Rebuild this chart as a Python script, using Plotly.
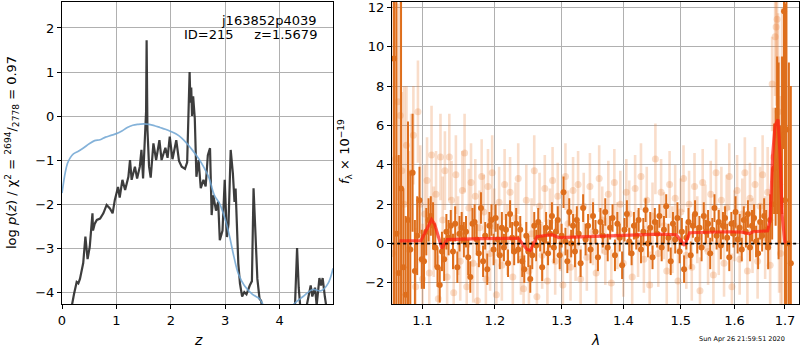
import plotly.graph_objects as go

# ---------------- Left panel: p(z) ----------------
z_pz = [0.0, 0.10, 0.18, 0.22, 0.27, 0.30, 0.33, 0.36, 0.39, 0.43, 0.47, 0.51, 0.56, 0.57, 0.60, 0.64, 0.70,
        0.76, 0.82, 0.88, 0.93, 0.97, 1.03, 1.06, 1.11, 1.16, 1.22, 1.25, 1.28, 1.34, 1.38, 1.43,
        1.46, 1.49, 1.52, 1.545, 1.555, 1.57, 1.60, 1.63, 1.68, 1.73, 1.79, 1.83, 1.90, 1.94, 1.98,
        2.03, 2.10, 2.15, 2.20, 2.26, 2.30, 2.33, 2.345, 2.36, 2.375, 2.39, 2.41, 2.44, 2.47, 2.51,
        2.55, 2.60, 2.64, 2.68, 2.72, 2.75, 2.78, 2.83, 2.87, 2.90, 2.95, 2.99, 3.03, 3.06, 3.10,
        3.14, 3.17, 3.19, 3.24, 3.27, 3.31, 3.35, 3.39, 3.45, 3.49, 3.52, 3.55, 3.59, 3.63, 3.66,
        3.70, 3.80, 4.00, 4.20, 4.28, 4.32, 4.35, 4.38, 4.45, 4.52, 4.57, 4.60, 4.65, 4.68, 4.73,
        4.76, 4.79, 4.83, 4.86, 4.92, 4.97]
logp = [-5.5, -4.8, -4.25, -4.05, -3.77, -3.80, -3.70, -3.54, -3.34, -2.74, -3.25, -2.97, -2.21, -2.60, -2.45, -2.36, -2.33,
        -2.21, -2.02, -2.10, -2.21, -1.91, -1.61, -1.85, -1.45, -1.68, -1.38, -1.00, -1.45, -1.15, -1.42, -1.15,
        -0.77, -1.42, -0.70, 0.10, 1.72, -0.30, -1.15, -1.40, -0.62, -1.00, -0.55, -1.00, -0.72, -0.95, -0.47,
        -0.98, -0.55, -1.02, -1.15, -1.20, -1.05, 0.20, 1.00, 0.30, 0.65, 0.00, 0.45, -0.05, -1.38, -1.00,
        -1.64, -1.45, -1.60, -0.89, -0.73, -2.25, -1.80, -2.15, -1.95, -2.82, -2.60, -1.45, -2.75, -2.45, -0.77,
        -1.30, -1.95, -1.65, -3.35, -3.80, -4.10, -4.00, -4.05, -3.85, -3.75, -1.64, -2.60, -3.70, -4.15, -4.20,
        -4.60, -5.0, -5.2, -4.9, -4.35, -3.00, -3.90, -4.35, -4.6, -4.15, -3.85, -4.10, -3.90, -4.30, -3.68,
        -3.85, -3.68, -4.10, -4.35, -4.5, -4.6]

z_prior = [0.0, 0.03, 0.06, 0.10, 0.15, 0.21, 0.30, 0.40, 0.50, 0.60, 0.70, 0.80, 0.90, 1.00, 1.10, 1.20, 1.30,
           1.40, 1.50, 1.60, 1.70, 1.80, 1.90, 2.00, 2.10, 2.20, 2.30, 2.40, 2.50, 2.60, 2.70, 2.80, 2.90,
           3.00, 3.08, 3.16, 3.24, 3.35, 3.50, 3.63, 3.70, 3.80, 3.90, 4.00, 4.10, 4.24, 4.43, 4.61, 4.76,
           4.89, 4.98]
chi2_prior = [-1.75, -1.50, -1.28, -1.08, -0.95, -0.86, -0.80, -0.72, -0.63, -0.56, -0.54, -0.48, -0.44, -0.40,
              -0.34, -0.26, -0.21, -0.19, -0.18, -0.19, -0.22, -0.26, -0.30, -0.35, -0.41, -0.50, -0.63, -0.78,
              -0.95, -1.15, -1.40, -1.80, -2.00, -2.35, -2.74, -3.20, -3.58, -3.85, -4.05, -4.15, -4.30, -4.50,
              -4.60, -4.65, -4.60, -4.30, -4.10, -3.94, -3.97, -3.80, -3.46]

# ---------------- Right panel: spectrum ----------------
wave_a = [1.063, 1.066, 1.069, 1.072, 1.075, 1.078, 1.081, 1.084, 1.087, 1.090, 1.093, 1.096, 1.099, 1.102,
          1.105, 1.108, 1.111, 1.114, 1.117, 1.120, 1.123, 1.126, 1.129, 1.132, 1.135, 1.138, 1.141, 1.144,
          1.147, 1.150, 1.153, 1.156, 1.159, 1.162, 1.165, 1.168, 1.171, 1.174, 1.177, 1.180, 1.183, 1.186,
          1.189, 1.192, 1.195, 1.198, 1.201, 1.204, 1.207, 1.210, 1.213, 1.216, 1.219, 1.222, 1.225, 1.228,
          1.231, 1.234, 1.237, 1.240, 1.243, 1.246, 1.249, 1.252, 1.255, 1.258, 1.261, 1.264, 1.267, 1.270,
          1.273, 1.276, 1.279, 1.282, 1.285, 1.288, 1.291, 1.294, 1.297, 1.300, 1.303, 1.306, 1.309, 1.312,
          1.315, 1.318, 1.321, 1.324, 1.327, 1.330, 1.334, 1.338, 1.342, 1.346, 1.350, 1.354, 1.358, 1.362,
          1.366, 1.370, 1.374, 1.378, 1.382, 1.386, 1.390, 1.394, 1.398, 1.402, 1.406, 1.410, 1.414, 1.418,
          1.422, 1.426, 1.430, 1.434, 1.438, 1.442, 1.446, 1.450, 1.454, 1.458, 1.462, 1.466, 1.470, 1.474,
          1.478, 1.482, 1.486, 1.490, 1.494, 1.498, 1.502, 1.506, 1.510, 1.514, 1.518, 1.522, 1.526, 1.530,
          1.534, 1.538, 1.542, 1.546, 1.550, 1.554, 1.558, 1.562, 1.566, 1.570, 1.574, 1.578, 1.582, 1.586,
          1.590, 1.594, 1.598, 1.602, 1.606, 1.610, 1.614, 1.618, 1.622, 1.626, 1.630, 1.634, 1.638, 1.642,
          1.646, 1.650, 1.654, 1.658, 1.662, 1.666, 1.670, 1.674, 1.678, 1.681, 1.684, 1.687, 1.690, 1.694,
          1.698, 1.700, 1.703, 1.708, 1.712]
flux_a = [9.4, 0.5, -1.5, 2.8, -1.2, -2.6, 1.2, -0.3, 3.6, -1.4, 0.4, 2.2, -0.8, -0.9,
          0.6, 1.2, 1.4, 0.9, -0.2, -1.2, -2.1, -0.4, -0.8, 0.6, 0.3, 0.9, -0.4, 1.0,
          -1.2, 0.5, 0.8, 0.2, 0.6, -0.7, -1.7, 1.0, 1.1, 0.2, -0.5, 1.8, -0.9, 0.4,
          -1.3, 0.9, 1.2, -0.3, 1.3, 0.2, -0.6, 0.8, -0.2, 0.7, -1.0, 1.5, 0.3, -0.4,
          1.0, -0.3, 0.7, -0.9, -1.3, 0.4, -0.4, -1.8, -0.6, 0.9, -0.1, 1.1, 0.3, -1.2,
          0.2, 0.8, -0.5, 0.5, 1.4, -0.2, 0.6, 1.2, -0.6, 0.4, 2.6, 0.1, -0.9, 1.6,
          0.0, 0.9, -0.4, 1.2, 0.5, -1.0, 1.8, 0.2, 0.9, -0.3, 1.4, 0.6, -0.7, 1.1,
          0.4, 1.6, -0.2, 0.8, 1.3, -0.6, 1.0, 0.3, -1.1, 0.7, 1.5, 0.1, -0.5, 0.9,
          0.4, 1.2, -0.3, 0.6, 1.7, 0.0, 0.8, -0.7, 1.1, 0.5, 1.4, -0.2, 0.7, 1.9,
          0.3, -0.9, 1.0, 0.2, 1.3, -0.4, 0.6, -1.3, 0.3, 1.1, -0.6, 0.9, 1.5, 0.2,
          0.8, -0.2, 1.4, 0.6, 1.0, -0.5, 0.7, 1.8, 0.4, 1.1, -0.1, 0.9, 1.3, 0.3,
          -0.7, 1.0, 0.5, 1.6, 0.2, 0.8, -0.3, 1.2, 0.6, 1.5, -0.2, 0.9, 1.3, 0.1,
          -0.5, 1.1, 0.4, 1.4, 0.7, -0.2, 1.2, 2.0, 3.8, 3.9, 5.5, 4.2, 3.0, 5.5,
          11.8, 2.2, 5.8, 0.0, -1.0]
err_a = [14, 15, 6, 10, 4, 4, 5, 4, 3.0, 2.6, 2.0, 1.7, 1.5, 1.4,
         1.2, 1.1, 1.0, 1.2, 1.0, 1.0, 0.9, 1.0, 1.1, 0.9, 0.9, 0.8, 0.9, 0.9,
         0.8, 0.9, 0.8, 0.9, 0.8, 0.9, 0.8, 0.8, 0.9, 0.8, 0.7, 0.8, 0.8, 0.7,
         0.8, 0.7, 0.8, 0.8, 0.7, 0.8, 0.7, 0.8, 0.7, 0.8, 0.7, 0.7, 0.8, 0.7,
         0.8, 0.7, 0.7, 0.8, 0.7, 0.7, 0.8, 0.7, 0.7, 0.7, 0.8, 0.7, 0.7, 0.7,
         0.7, 0.8, 0.6, 0.7, 0.7, 0.8, 0.6, 0.7, 0.7, 0.6, 0.8, 0.7, 0.6, 0.7,
         0.7, 0.6, 0.8, 0.7, 0.6, 0.7, 0.7, 0.8, 0.6, 0.7, 0.7, 0.6, 0.7, 0.7,
         0.6, 0.7, 0.7, 0.6, 0.7, 0.8, 0.6, 0.7, 0.7, 0.6, 0.7, 0.7, 0.6, 0.7,
         0.7, 0.6, 0.7, 0.7, 0.6, 0.7, 0.8, 0.6, 0.7, 0.7, 0.6, 0.7, 0.7, 0.6,
         0.7, 0.7, 0.6, 0.7, 0.8, 0.6, 0.7, 0.7, 0.6, 0.7, 0.7, 0.6, 0.7, 0.7,
         0.6, 0.7, 0.7, 0.6, 0.7, 0.8, 0.6, 0.7, 0.7, 0.6, 0.7, 0.7, 0.6, 0.7,
         0.7, 0.6, 0.7, 0.8, 0.7, 0.7, 0.6, 0.7, 0.8, 0.7, 0.7, 0.8, 0.7, 0.8,
         0.8, 0.9, 0.8, 0.9, 1.0, 1.1, 1.3, 1.8, 2.3, 3.0, 4.0, 5.0, 3.0, 4.0,
         7.0, 10.0, 12.0, 9.2, 9.0]

wave_b = [1.061, 1.065, 1.068, 1.071, 1.073, 1.076, 1.079, 1.082, 1.085, 1.088, 1.091, 1.094, 1.097, 1.100,
          1.103, 1.106, 1.109, 1.112, 1.115, 1.118, 1.121, 1.124, 1.127, 1.130, 1.133, 1.136, 1.139, 1.142,
          1.145, 1.148, 1.151, 1.154, 1.157, 1.160, 1.163, 1.166, 1.169, 1.172, 1.175, 1.178, 1.181, 1.184,
          1.187, 1.190, 1.193, 1.196, 1.199, 1.202, 1.206, 1.210, 1.214, 1.218, 1.222, 1.226, 1.230, 1.234,
          1.238, 1.242, 1.246, 1.250, 1.254, 1.258, 1.262, 1.266, 1.270, 1.274, 1.278, 1.282, 1.286, 1.290,
          1.294, 1.298, 1.302, 1.306, 1.310, 1.314, 1.318, 1.322, 1.326, 1.330, 1.335, 1.340, 1.345, 1.350,
          1.355, 1.360, 1.365, 1.370, 1.375, 1.380, 1.385, 1.390, 1.395, 1.400, 1.405, 1.410, 1.415, 1.420,
          1.425, 1.430, 1.435, 1.440, 1.445, 1.450, 1.455, 1.460, 1.465, 1.470, 1.475, 1.480, 1.485, 1.490,
          1.495, 1.500, 1.505, 1.510, 1.515, 1.520, 1.525, 1.530, 1.535, 1.540, 1.545, 1.550, 1.555, 1.560,
          1.565, 1.570, 1.575, 1.580, 1.585, 1.590, 1.595, 1.600, 1.605, 1.610, 1.615, 1.620, 1.625, 1.630,
          1.635, 1.640, 1.645, 1.650, 1.655, 1.660, 1.665, 1.670, 1.674, 1.677, 1.680, 1.682, 1.684, 1.686,
          1.688, 1.691, 1.694]
flux_b = [-0.5, 4.3, 7.2, 6.5, 3.7, 2.0, 5.0, -0.3, 3.6, 5.5, -2.2, 6.7, 2.0, -1.8,
          1.5, 3.2, -1.5, 4.5, 0.6, 2.5, -2.8, 4.4, 1.2, 3.7, -1.7, 4.4, 2.2, -2.5,
          3.5, 0.4, -0.9, 2.7, 4.6, -2.2, 1.8, 3.1, -1.0, 2.4, -2.9, 0.8, 3.4, 1.6,
          -1.8, 2.9, -0.5, 3.6, 0.9, -2.6, 2.1, -1.1, 3.0, 0.2, 2.6, -1.7, 1.3, 3.3,
          -0.8, -2.3, 2.2, -1.4, 0.5, 3.7, -2.7, 1.9, -0.6, 2.8, -1.9, 1.1, 3.2, -0.9,
          2.4, 0.3, -2.1, 3.4, 1.0, -1.2, 2.7, -0.2, 3.0, -1.8, 1.9, -0.7, 2.9, 0.6,
          -1.5, 3.3, 1.2, -0.4, 2.5, -2.0, 3.1, 0.4, 2.0, -1.0, 2.6, 1.5, -1.7, 2.8,
          0.0, 3.4, -0.8, 2.2, -2.1, 1.4, 4.3, -0.5, 2.6, 0.9, -1.4, 3.0, 0.2, 2.3,
          -1.9, 1.6, 3.3, -0.6, 2.0, -1.2, 2.9, 0.7, -2.4, 3.1, 1.3, -0.4, 2.5, -1.6,
          3.6, 0.1, 2.2, -1.0, 1.8, 3.4, -2.2, 0.9, 2.7, -0.8, 1.5, 3.6, -1.4, 2.3,
          0.4, 3.0, -0.9, 1.9, 3.5, 0.3, 2.6, -1.1, 8.1, 4.4, 10.5, 11.0, 11.4, 6.7,
          3.5, -0.5, 2.0]
err_b = [14, 9, 5, 6, 4, 6, 3, 5, 3, 2.5, 3, 2.6, 3, 2.8,
         2.5, 2.2, 2.4, 2.5, 2.3, 2.2, 2.2, 2.2, 2.2, 2.0, 2.1, 2.2, 2.0, 2.0,
         2.0, 2.0, 2.0, 2.0, 2.0, 2.0, 2.0, 2.0, 2.0, 1.9, 1.9, 1.9, 1.9, 1.9,
         1.9, 1.9, 1.9, 1.9, 1.9, 1.8, 1.8, 1.8, 1.8, 1.8, 1.8, 1.8, 1.8, 1.8,
         1.8, 1.8, 1.8, 1.8, 1.8, 1.8, 1.8, 1.7, 1.7, 1.7, 1.7, 1.7, 1.7, 1.7,
         1.7, 1.7, 1.7, 1.7, 1.7, 1.7, 1.7, 1.7, 1.7, 1.7, 1.7, 1.7, 1.7, 1.7,
         1.7, 1.7, 1.7, 1.7, 1.7, 1.7, 1.7, 1.7, 1.7, 1.7, 1.7, 1.7, 1.7, 1.7,
         1.7, 1.7, 1.7, 1.7, 1.7, 1.7, 1.8, 1.7, 1.7, 1.7, 1.7, 1.7, 1.7, 1.7,
         1.7, 1.7, 1.7, 1.7, 1.7, 1.7, 1.7, 1.7, 1.7, 1.7, 1.7, 1.7, 1.7, 1.7,
         1.7, 1.7, 1.7, 1.7, 1.7, 1.7, 1.7, 1.8, 1.8, 1.8, 1.8, 1.8, 1.8, 1.8,
         1.9, 1.9, 1.9, 2.0, 2.0, 2.1, 2.3, 2.5, 2.4, 2.5, 3.0, 4.0, 5.0, 5.0,
         6.0, 8.0, 10.0]

wave_model = [1.070, 1.098, 1.112, 1.116, 1.126, 1.133, 1.180, 1.234, 1.247, 1.252, 1.262, 1.285, 1.296,
              1.350, 1.402, 1.462, 1.492, 1.507, 1.516, 1.584, 1.615, 1.628, 1.636, 1.665, 1.670, 1.675,
              1.680, 1.686, 1.690, 1.694, 1.700]
flux_model = [0.14, 0.15, 1.22, 1.0, -0.25, 0.20, 0.25, 0.27, -0.30, -0.35, 0.35, 0.45, 0.30,
              0.35, 0.40, 0.48, 0.45, -0.10, 0.55, 0.60, 0.58, 0.50, 0.60, 0.65, 1.2, 4.5,
              6.0, 6.3, 4.5, 1.5, 0.0]

x_ticks_right = [1.1, 1.2, 1.3, 1.4, 1.5, 1.6, 1.7]

# ---------------- Figure ----------------
W, H = 800, 350
L_DOM = [62 / W, 333 / W]
R_DOM = [392 / W, 798.5 / W]
Y_DOM = [(H - 304) / H, (H - 2) / H]

DARK = "rgb(222,110,28)"
LIGHT = "rgba(232,125,50,0.26)"
FONT = "DejaVu Sans"

fig = go.Figure()

fig.add_trace(go.Scatter(x=z_pz, y=logp, mode="lines", xaxis="x", yaxis="y",
                         line=dict(color="rgba(40,40,40,0.9)", width=2.2), showlegend=False))
fig.add_trace(go.Scatter(x=z_prior, y=chi2_prior, mode="lines", xaxis="x", yaxis="y",
                         line=dict(color="rgba(110,165,210,0.85)", width=1.7, shape="spline"),
                         showlegend=False))

fig.add_trace(go.Scatter(x=wave_b, y=flux_b, mode="markers", xaxis="x2", yaxis="y2",
                         marker=dict(color=LIGHT, size=7),
                         error_y=dict(type="data", array=err_b, thickness=2.6, width=0, color=LIGHT),
                         cliponaxis=True, showlegend=False))
fig.add_trace(go.Scatter(x=wave_a, y=flux_a, mode="markers", xaxis="x2", yaxis="y2",
                         marker=dict(color=DARK, size=6),
                         error_y=dict(type="data", array=err_a, thickness=2, width=0, color=DARK),
                         cliponaxis=True, showlegend=False))
fig.add_trace(go.Scatter(x=wave_model, y=flux_model, mode="lines", xaxis="x2", yaxis="y2",
                         line=dict(color="rgba(255,30,20,0.72)", width=3.2), showlegend=False))
fig.add_trace(go.Scatter(x=[1.0, 1.8], y=[0, 0], mode="lines", xaxis="x2", yaxis="y2",
                         line=dict(color="black", width=1.8, dash="dot"), showlegend=False))

axis_common = dict(showgrid=True, gridcolor="#b0b0b0", gridwidth=1, showline=True, mirror=True,
                   linecolor="black", linewidth=1, ticks="outside", ticklen=4, tickcolor="black",
                   tickfont=dict(family=FONT, size=13, color="black"), zeroline=False, automargin=False,
                   ticklabeloverflow="allow")

fig.update_layout(
    width=W, height=H, margin=dict(l=0, r=0, t=0, b=0),
    paper_bgcolor="white", plot_bgcolor="white",
    xaxis=dict(domain=L_DOM, range=[0, 4.98], tickvals=[0, 1, 2, 3, 4], anchor="y", **axis_common),
    yaxis=dict(domain=Y_DOM, range=[-4.27, 2.59], tickvals=[-4, -3, -2, -1, 0, 1, 2], anchor="x",
               **axis_common),
    xaxis2=dict(domain=R_DOM, type="log", range=[0.02548, 0.2375], tickvals=x_ticks_right,
                ticktext=[str(v) for v in x_ticks_right], anchor="y2", **axis_common),
    yaxis2=dict(domain=Y_DOM, range=[-3.07, 12.27], tickvals=[-2, 0, 2, 4, 6, 8, 10, 12], anchor="x2",
                **axis_common),
)

ann_font = dict(family=FONT, size=13, color="black")
fig.add_annotation(x=319 / W, y=1 - 20 / H, xref="paper", yref="paper", text="j163852p4039",
                   showarrow=False, xanchor="right", yanchor="middle", font=ann_font)
fig.add_annotation(x=319 / W, y=1 - 35 / H, xref="paper", yref="paper",
                   text="ID=215&nbsp;&nbsp;&nbsp;&nbsp;&nbsp;z=1.5679",
                   showarrow=False, xanchor="right", yanchor="middle", font=ann_font)
fig.add_annotation(x=198 / W, y=1 - 340 / H, xref="paper", yref="paper", text="<i>z</i>",
                   showarrow=False, xanchor="center", yanchor="middle",
                   font=dict(family=FONT, size=14, color="black"))
fig.add_annotation(x=595 / W, y=1 - 340 / H, xref="paper", yref="paper", text="<i>λ</i>",
                   showarrow=False, xanchor="center", yanchor="middle",
                   font=dict(family=FONT, size=14, color="black"))
fig.add_annotation(x=12 / W, y=1 - 153 / H, xref="paper", yref="paper", textangle=-90,
                   text="log <i>p</i>(<i>z</i>) / χ<sup>2</sup> = <sup>2694</sup>/<sub>2778</sub> = 0.97",
                   showarrow=False, xanchor="center", yanchor="middle", font=ann_font)
fig.add_annotation(x=345 / W, y=1 - 152 / H, xref="paper", yref="paper", textangle=-90,
                   text="<i>f</i><sub>λ</sub> × 10<sup>−19</sup>",
                   showarrow=False, xanchor="center", yanchor="middle", font=ann_font)
fig.add_annotation(x=742 / W, y=1 - 339 / H, xref="paper", yref="paper", text="Sun Apr 26 21:59:51 2020",
                   showarrow=False, xanchor="center", yanchor="middle",
                   font=dict(family=FONT, size=6.5, color="black"))

fig.write_html("out.html")
